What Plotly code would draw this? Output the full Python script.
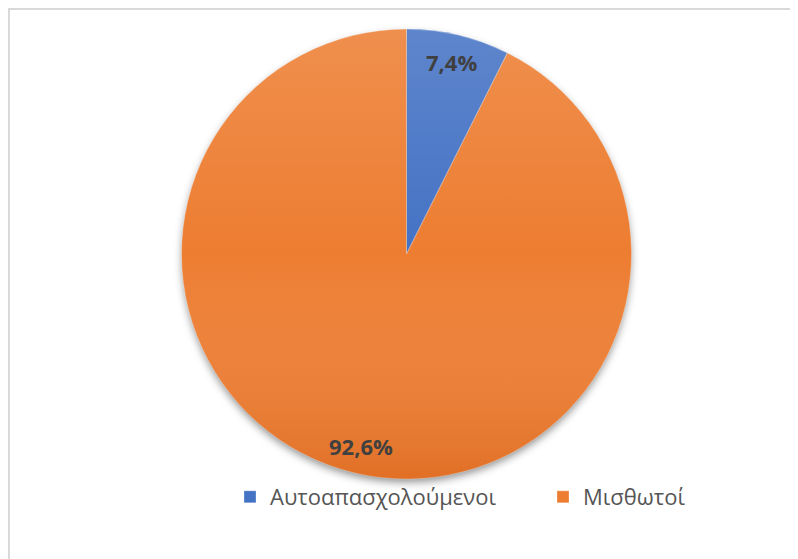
import math, base64
import plotly.graph_objects as go

categories = ["Αυτοαπασχολούμενοι", "Μισθωτοί"]
values = [7.4, 92.6]
colors = ["#4472C4", "#ED7D31"]

# page body has an 8px margin: work in figure coordinates (reference px - 8)
OFF = 8
W, H = 798 - OFF, 559 - OFF
cx, cy, r = 406.5 - OFF, 254.0 - OFF, 225.0  # pie centre/radius in figure px

dom_x = [(cx - r) / W, (cx + r) / W]
dom_y = [1 - (cy + r) / H, 1 - (cy - r) / H]

fig = go.Figure(go.Pie(
    labels=categories, values=values, sort=False, direction="clockwise", rotation=0,
    marker=dict(colors=colors, line=dict(color="rgba(255,255,255,0.6)", width=0.5)),
    textinfo="none", hoverinfo="label+percent",
    domain=dict(x=dom_x, y=dom_y), showlegend=True,
))

# data labels at "inside end" position along each slice's mid angle
total = sum(values)
acc = 0.0
for v in values:
    mid = (acc + v / 2) / total * 2 * math.pi
    acc += v
    px = cx + 0.875 * r * math.sin(mid)
    py = cy - 0.875 * r * math.cos(mid)
    fig.add_annotation(
        x=px / W, y=1 - py / H, xref="paper", yref="paper", showarrow=False,
        xanchor="center", yanchor="middle",
        text=f"<b>{v:.1f}%</b>".replace(".", ","),
        font=dict(family="Open Sans", size=22, color="#404040"),
    )

pad = 24
box = 2 * (r + pad)
shadow_svg = f'''<svg xmlns="http://www.w3.org/2000/svg" width="{box}" height="{box}" viewBox="0 0 {box} {box}">
<defs><filter id="b" x="-20%" y="-20%" width="140%" height="140%"><feGaussianBlur stdDeviation="4"/></filter></defs>
<circle cx="{r+pad}" cy="{r+pad+4}" r="{r-1}" fill="rgba(0,0,0,0.45)" filter="url(#b)"/></svg>'''
grad_svg = f'''<svg xmlns="http://www.w3.org/2000/svg" width="{2*r}" height="{2*r}" viewBox="0 0 {2*r} {2*r}">
<defs><linearGradient id="g" x1="0" y1="0" x2="0" y2="1">
<stop offset="0" stop-color="#ffffff" stop-opacity="0.14"/>
<stop offset="0.5" stop-color="#ffffff" stop-opacity="0"/>
<stop offset="1" stop-color="#be4600" stop-opacity="0.25"/></linearGradient></defs>
<circle cx="{r}" cy="{r}" r="{r}" fill="url(#g)"/></svg>'''

def uri(s):
    return "data:image/svg+xml;base64," + base64.b64encode(s.encode()).decode()

fig.add_layout_image(source=uri(shadow_svg), xref="paper", yref="paper",
                     x=(cx - r - pad) / W, y=1 - (cy - r - pad) / H,
                     sizex=box / W, sizey=box / H, sizing="stretch",
                     xanchor="left", yanchor="top", layer="below")
fig.add_layout_image(source=uri(grad_svg), xref="paper", yref="paper",
                     x=(cx - r) / W, y=1 - (cy - r) / H,
                     sizex=2 * r / W, sizey=2 * r / H, sizing="stretch",
                     xanchor="left", yanchor="top", layer="above")

# chart border
fig.add_shape(type="rect", xref="paper", yref="paper",
              x0=1 / W, x1=1.05, y0=-0.05, y1=1 - 1 / H,
              line=dict(color="#d9d9d9", width=2), fillcolor="rgba(0,0,0,0)")

fig.update_layout(
    width=W, height=H, margin=dict(l=0, r=0, t=0, b=0, autoexpand=False),
    paper_bgcolor="white", plot_bgcolor="white",
    legend=dict(orientation="h", x=(230 - OFF) / W, xanchor="left",
                y=1 - (497 - OFF) / H, yanchor="middle",
                font=dict(family="Open Sans", size=22, color="#555555"),
                entrywidth=268, traceorder="normal", bgcolor="rgba(0,0,0,0)"),
)

fig.write_html("out.html")
